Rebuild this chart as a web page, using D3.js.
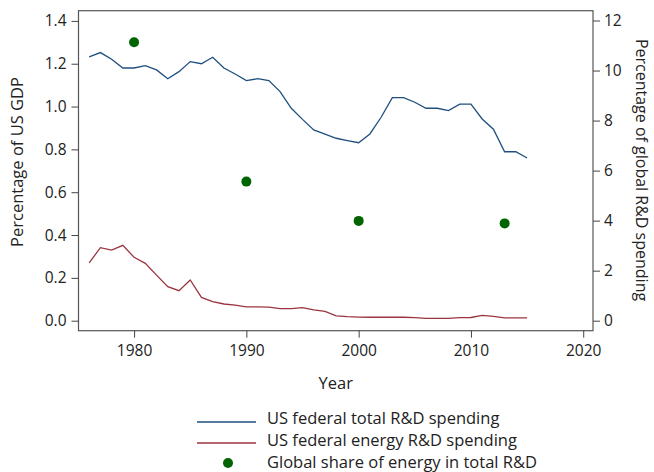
<html>
<script src='https://d3js.org/d3.v7.min.js'></script>
<style>
body {margin:0; background:white;}
text {font-family: 'Open Sans', sans-serif; fill:#222;}
</style>
<body>
<svg width=654 height=472></svg>
<script>
// data
var years = [1976,1977,1978,1979,1980,1981,1982,1983,1984,1985,1986,1987,1988,1989,1990,
             1991,1992,1993,1994,1995,1996,1997,1998,1999,2000,2001,2002,2003,2004,2005,
             2006,2007,2008,2009,2010,2011,2012,2013,2014,2015];
var totalRD = [1.232,1.252,1.221,1.18,1.18,1.191,1.171,1.13,1.163,1.21,1.20,1.23,1.18,1.152,1.121,
               1.13,1.121,1.07,0.992,0.94,0.891,0.871,0.852,0.841,0.831,0.872,0.95,1.042,1.042,1.02,
               0.992,0.992,0.981,1.011,1.011,0.942,0.894,0.789,0.789,0.76];
var energyRD = [0.27,0.341,0.33,0.352,0.296,0.268,0.213,0.159,0.14,0.19,0.109,0.089,0.078,0.073,0.065,
                0.065,0.063,0.056,0.056,0.061,0.051,0.044,0.023,0.019,0.017,0.016,0.016,0.016,0.016,0.014,
                0.011,0.011,0.011,0.014,0.015,0.025,0.02,0.013,0.013,0.013];
var shareYears = [1980,1990,2000,2013];
var shareVals = [11.13,5.56,3.99,3.89];
var xTicks = [1980,1990,2000,2010,2020];
var yLeftTicks = [0,0.2,0.4,0.6,0.8,1.0,1.2,1.4];
var yRightTicks = [0,2,4,6,8,10,12];
var legendLabels = ['US federal total R&D spending','US federal energy R&D spending','Global share of energy in total R&D'];

var blue = '#1f4f7f', red = '#9b3440', green = '#006400';
var pLeft = 78.5, pRight = 593, pTop = 10.7, pBottom = 330.7;

var x = d3.scaleLinear([1975.05, 2020.87], [pLeft, pRight]);
var yL = d3.scaleLinear([0, 1.4], [320.7, 20.9]);
var yR = d3.scaleLinear([0, 12], [320.7, 20.5]);

var svg = d3.select('svg');

// frame
svg.append('rect')
  .attr('x', pLeft).attr('y', pTop)
  .attr('width', pRight-pLeft).attr('height', pBottom-pTop)
  .attr('fill', 'none').attr('stroke', '#555').attr('stroke-width', 1.2);

function styleAxis(g) {
  g.select('.domain').remove();
  g.selectAll('.tick line').attr('stroke', '#444').attr('stroke-width', 1);
  g.selectAll('.tick text').style('font-size', '15.5px').attr('fill', '#222')
    .style('font-family', "'Open Sans', sans-serif");
}

svg.append('g')
  .attr('transform', 'translate(' + pLeft + ',0)')
  .call(d3.axisLeft(yL).tickValues(yLeftTicks).tickFormat(d3.format('.1f')).tickSizeOuter(0).tickSize(7).tickPadding(5))
  .call(styleAxis);

svg.append('g')
  .attr('transform', 'translate(' + pRight + ',0)')
  .call(d3.axisRight(yR).tickValues(yRightTicks).tickFormat(d3.format('d')).tickSizeOuter(0).tickSize(7).tickPadding(4))
  .call(styleAxis);

svg.append('g')
  .attr('transform', 'translate(0,' + pBottom + ')')
  .call(d3.axisBottom(x).tickValues(xTicks).tickFormat(d3.format('d')).tickSizeOuter(0).tickSize(7).tickPadding(7))
  .call(styleAxis);

// series
var lineTotal = d3.line().x(function(d,i){return x(years[i]);}).y(function(d){return yL(d);});
svg.append('path').datum(totalRD)
  .attr('d', lineTotal).attr('fill','none').attr('stroke', blue).attr('stroke-width', 1.3);
svg.append('path').datum(energyRD)
  .attr('d', lineTotal).attr('fill','none').attr('stroke', red).attr('stroke-width', 1.3);

svg.append('g').selectAll('circle')
  .data(shareVals).enter().append('circle')
  .attr('cx', function(d,i){return x(shareYears[i]);})
  .attr('cy', function(d){return yR(d);})
  .attr('r', 5).attr('fill', green);

// axis titles
svg.append('text').attr('x', (pLeft+pRight)/2).attr('y', 389)
  .attr('text-anchor','middle').style('font-size','16.5px').text('Year');
svg.append('text').attr('transform','translate(23,' + 162 + ') rotate(-90)')
  .attr('text-anchor','middle').style('font-size','16.5px').text('Percentage of US GDP');
svg.append('text').attr('transform','translate(636,' + 170 + ') rotate(90)')
  .attr('text-anchor','middle').style('font-size','16px').text('Percentage of global R&D spending');

// legend
var leg = svg.append('g');
var legY = [424, 446, 468];
leg.append('line').attr('x1',197).attr('x2',256).attr('y1',422).attr('y2',422)
  .attr('stroke', blue).attr('stroke-width',1.3);
leg.append('line').attr('x1',197).attr('x2',256).attr('y1',443).attr('y2',443)
  .attr('stroke', red).attr('stroke-width',1.3);
leg.append('circle').attr('cx',228).attr('cy',463).attr('r',5).attr('fill',green);
leg.selectAll('text').data(legendLabels).enter().append('text')
  .attr('x', 267).attr('y', function(d,i){return legY[i];})
  .style('font-size','16.5px').text(function(d){return d;});
</script>
</body>
</html>
